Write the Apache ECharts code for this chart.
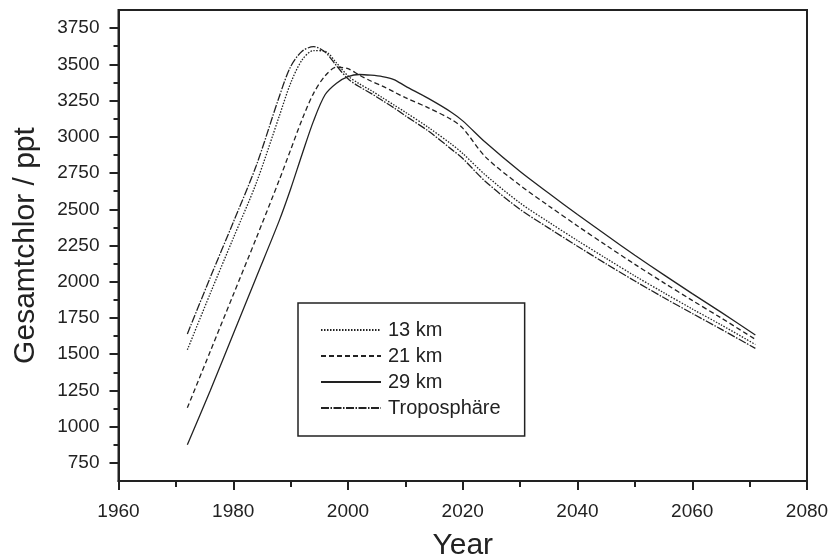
<!DOCTYPE html>
<html>
<head>
<meta charset="utf-8">
<script src="https://cdn.jsdelivr.net/npm/echarts@6/dist/echarts.min.js"></script>
<style>html,body{margin:0;padding:0;background:#fff;}#c{width:829px;height:558px;}</style>
</head>
<body>
<div id="c"></div>
<script>
const years = [1972,1976,1980,1984,1988,1990,1992,1994,1996,1998,2000,2002,2004,2006,2008,2010,2014,2018,2020,2024,2030,2035,2040,2045,2050,2055,2060,2065,2071];
const km13  = [1530,1920,2300,2680,3140,3370,3530,3595,3590,3510,3420,3365,3320,3270,3220,3170,3065,2950,2885,2735,2543,2411,2284,2161,2040,1925,1812,1703,1567];
const km21  = [1130,1520,1910,2300,2700,2910,3120,3300,3420,3480,3470,3425,3385,3350,3310,3270,3200,3120,3060,2860,2665,2523,2385,2251,2120,1994,1871,1751,1602];
const km29  = [875,1250,1640,2030,2420,2640,2880,3110,3290,3370,3415,3430,3425,3415,3395,3350,3265,3170,3110,2960,2760,2610,2464,2322,2183,2049,1918,1790,1632];
const tropo = [1640,2030,2410,2800,3275,3484,3590,3622,3585,3490,3400,3345,3300,3250,3200,3145,3040,2915,2850,2690,2499,2370,2245,2123,2005,1891,1781,1673,1540];
const seriesNames = ['13 km','21 km','29 km','Troposphäre'];
const yMajor = [750,1000,1250,1500,1750,2000,2250,2500,2750,3000,3250,3500,3750];
const yMinor = [875,1125,1375,1625,1875,2125,2375,2625,2875,3125,3375,3625];

const FONT = "'Liberation Sans', Arial, sans-serif";
const INK = '#222';
const pair = arr => years.map((y,i)=>[y,arr[i]]);
const chart = echarts.init(document.getElementById('c'), null, {renderer:'canvas'});
const mk = (name, data, dash, w) => ({
  name, type:'line', data: pair(data), symbol:'none', smooth:0.3,
  lineStyle:{color:INK, width:w, type:dash}, itemStyle:{color:INK}, z:3
});
chart.setOption({
  animation:false,
  backgroundColor:'#fff',
  grid:{left:118.5, right:22, top:10, bottom:77, outerBoundsMode:'none', containLabel:false,
        show:true, borderColor:INK, borderWidth:2, backgroundColor:'transparent'},
  legend:{
    orient:'vertical', left:298, top:303,
    padding:[17,24,18,22], itemGap:6, itemWidth:60, itemHeight:14,
    borderColor:INK, borderWidth:1.5, backgroundColor:'#fff',
    itemStyle:{opacity:0},
    textStyle:{fontFamily:FONT, fontSize:20, color:INK, padding:[0,0,0,2]},
    data: seriesNames
  },
  xAxis:{
    type:'value', min:1960, max:2080, interval:20,
    name:'Year', nameLocation:'middle', nameGap:50,
    nameTextStyle:{fontFamily:FONT, fontSize:30, color:INK},
    axisLine:{show:true, lineStyle:{color:INK, width:2}},
    axisTick:{show:true, inside:false, length:9, lineStyle:{color:INK, width:2}},
    minorTick:{show:true, splitNumber:2, length:6, lineStyle:{color:INK, width:2}},
    axisLabel:{fontFamily:FONT, fontSize:19, color:INK, margin:21, formatter: v => String(v)},
    splitLine:{show:false}
  },
  yAxis:[{
    type:'value', min:625, max:3875,
    name:'Gesamtchlor / ppt', nameLocation:'middle', nameGap:78,
    nameTextStyle:{fontFamily:FONT, fontSize:30, color:INK},
    axisLine:{show:true, lineStyle:{color:INK, width:2}},
    axisTick:{show:true, inside:false, length:9, customValues:yMajor, lineStyle:{color:INK, width:2}},
    axisLabel:{fontFamily:FONT, fontSize:19, color:INK, margin:19, customValues:yMajor, formatter: v => String(v)},
    splitLine:{show:false}
  },{
    type:'value', min:625, max:3875, position:'left',
    axisLine:{show:false},
    axisTick:{show:true, inside:false, length:5, customValues:yMinor, lineStyle:{color:INK, width:2}},
    axisLabel:{show:false},
    splitLine:{show:false}
  }],
  series:[
    mk(seriesNames[0], km13, [1.5,1.5], 1.3),
    mk(seriesNames[1], km21, [5,3], 1.3),
    mk(seriesNames[2], km29, 'solid', 1.3),
    mk(seriesNames[3], tropo, [8,1.5,1.5,1.5], 1.3)
  ]
});
</script>
</body>
</html>
